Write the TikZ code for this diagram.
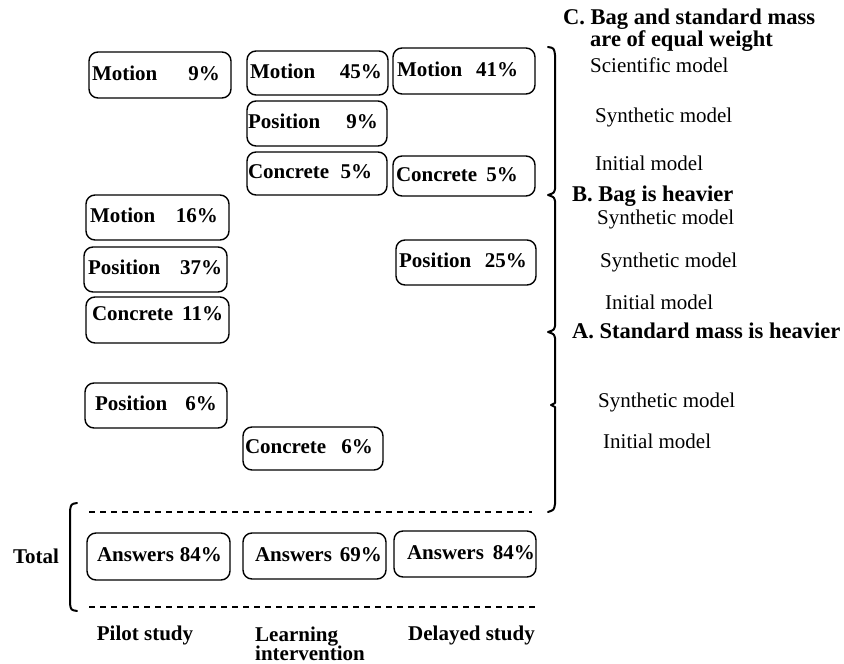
\documentclass[tikz,border=0pt]{standalone}
\usepackage{fontspec}
\setmainfont{Liberation Serif}
% box label: total width, left pad, left word, right word, right pad
\newcommand\boxtext[5]{\makebox[#1pt]{\hspace{#2pt}#3\hfill#4\hspace{#5pt}}}
\begin{document}
\begin{tikzpicture}[x=1pt,y=-1pt,
  pbox/.style={draw, line width=1.4pt, rounded corners=9pt, inner xsep=0pt, inner ysep=0pt,
    text height=14pt, text depth=4pt, font=\fontsize{21}{24}\selectfont\bfseries},
  lab/.style={anchor=west, inner sep=0pt, text height=14pt, text depth=4pt,
    font=\fontsize{21}{24}\selectfont},
  head/.style={lab, font=\fontsize{22.5}{26}\selectfont\bfseries},
  boldlab/.style={lab, font=\fontsize{21}{24}\selectfont\bfseries},
  sep/.style={dash pattern=on 6pt off 5pt, line width=1.1pt},
  brk/.style={line width=2pt, line cap=round, line join=round}]
\useasboundingbox (0,0) rectangle (844,664);

% pilot study column
\node[pbox, minimum height=46] (pm)  at (160,75)    {\boxtext{142}{3}{Motion}{9\%}{11}};
\node[pbox, minimum height=45] (pm2) at (157.5,217.5) {\boxtext{143}{4}{Motion}{16\%}{11}};
\node[pbox, minimum height=45] (pp)  at (155.5,269.5) {\boxtext{143}{4}{Position}{37\%}{5}};
\node[pbox, minimum height=46] (pc)  at (157.5,320)   {\raisebox{5pt}{\boxtext{143}{6}{Concrete}{11\%}{6}}};
\node[pbox, minimum height=45] (pp2) at (156,405.5)   {\boxtext{142}{10}{Position}{6\%}{10}};

% learning intervention column
\node[pbox, minimum height=44] (lm)  at (317.5,73)    {\boxtext{141}{3}{Motion}{45\%}{6}};
\node[pbox, minimum height=45] (lp)  at (317,123.5)   {\boxtext{140}{1}{Position}{9\%}{9}};
\node[pbox, minimum height=43] (lc)  at (317,173.5)   {\boxtext{140}{1}{Concrete}{5\%}{15}};
\node[pbox, minimum height=43] (lc2) at (313,448.5)   {\boxtext{140}{2}{Concrete}{6\%}{10}};

% delayed study column
\node[pbox, minimum height=46] (dm)  at (464,71)      {\boxtext{142}{4}{Motion}{41\%}{17}};
\node[pbox, minimum height=40] (dc)  at (464,176)     {\boxtext{142}{3}{Concrete}{5\%}{17}};
\node[pbox, minimum height=45] (dp)  at (466,262.5)   {\boxtext{140}{3}{Position}{25\%}{9}};

% totals
\node[pbox, minimum height=47] (ta) at (158.5,556.5) {\boxtext{143}{10}{Answers}{84\%}{8}};
\node[pbox, minimum height=46] (tb) at (314.5,556)   {\boxtext{143}{12}{Answers}{69\%}{4}};
\node[pbox, minimum height=46] (tc) at (465,554)     {\boxtext{142}{13}{Answers}{84\%}{1}};

% dashed separators
\coordinate (s1a) at (89,512);  \coordinate (s1b) at (532,512);
\coordinate (s2a) at (89,607);  \coordinate (s2b) at (535,607);
\draw[sep] (s1a) -- (s1b);
\draw[sep] (s2a) -- (s2b);

% total bracket and label
\draw[brk] (77,503) .. controls (71,504) .. (70,511) -- (70,604) .. controls (71,610) .. (77,611);
\node[boldlab, anchor=center] (tot) at (36,558) {Total};

% column captions
\node[boldlab, anchor=center] (cp) at (145,635) {Pilot study};
\node[boldlab] (cl1) at (255,636) {Learning};
\node[boldlab] (cl2) at (255,655) {intervention};
\node[boldlab] (cd) at (408,635) {Delayed study};

% right brace grouping the answer categories
\draw[brk] (548,47) .. controls (554,48) .. (555,55)
  -- (555,189) .. controls (554,193) .. (548,195) .. controls (554,197) .. (555,201)
  -- (555,326) .. controls (554,330) .. (548,332) .. controls (554,334) .. (555,338)
  -- (555,403) -- (551,405) -- (555,407)
  -- (555,504) .. controls (554,510) .. (548,512);

% category and model labels
\node[head] (hc1) at (563,19) {C. Bag and standard mass};
\node[head] (hc2) at (590,41) {are of equal weight};
\node[lab] (c1) at (590,67)  {Scientific model};
\node[lab] (c2) at (595,117) {Synthetic model};
\node[lab] (c3) at (595,165) {Initial model};
\node[head] (hb) at (572,196) {B. Bag is heavier};
\node[lab] (b1) at (597,219) {Synthetic model};
\node[lab] (b2) at (600,262) {Synthetic model};
\node[lab] (b3) at (605,304) {Initial model};
\node[head] (ha) at (572,333) {A. Standard mass is heavier};
\node[lab] (a1) at (598,402) {Synthetic model};
\node[lab] (a2) at (603,443) {Initial model};
\end{tikzpicture}
\end{document}
